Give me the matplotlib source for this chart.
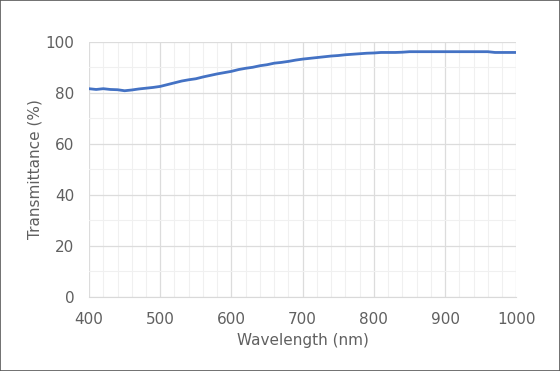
import matplotlib.pyplot as plt
from matplotlib.patches import Rectangle
from matplotlib.ticker import MultipleLocator

# Transmittance curve (every 10 nm)
wavelength = list(range(400, 1001, 10))
transmittance = [
    81.6, 81.3, 81.6, 81.3, 81.2, 80.8, 81.1, 81.5, 81.8, 82.1,
    82.5, 83.2, 83.9, 84.6, 85.1, 85.5, 86.2, 86.8, 87.4, 87.9,
    88.4, 89.1, 89.6, 90.0, 90.6, 91.0, 91.6, 91.9, 92.3, 92.8,
    93.2, 93.5, 93.8, 94.1, 94.4, 94.6, 94.9, 95.1, 95.3, 95.5,
    95.6, 95.8, 95.8, 95.8, 95.9, 96.1, 96.1, 96.1, 96.1, 96.1,
    96.1, 96.1, 96.1, 96.1, 96.1, 96.1, 96.1, 95.8, 95.8, 95.8,
    95.8,
]

text_color = '#606060'

fig = plt.figure(figsize=(5.6, 3.71), dpi=100)
ax = fig.add_axes([0.159, 0.1995, 0.763, 0.688])

ax.plot(wavelength, transmittance, color='#4472c4', linewidth=2.0,
        solid_capstyle='round', zorder=3)

ax.set_xlim(400, 1000)
ax.set_ylim(0, 100)
ax.xaxis.set_major_locator(MultipleLocator(100))
ax.xaxis.set_minor_locator(MultipleLocator(20))
ax.yaxis.set_major_locator(MultipleLocator(20))
ax.yaxis.set_minor_locator(MultipleLocator(10))

ax.grid(which='major', color='#dcdcdc', linewidth=0.9)
ax.grid(which='minor', color='#f0f0f0', linewidth=0.8)
ax.set_axisbelow(True)

for side in ['top', 'right', 'left']:
    ax.spines[side].set_visible(False)
ax.spines['bottom'].set_color('#d9d9d9')

ax.tick_params(which='both', length=0, colors=text_color, labelsize=11)
ax.tick_params(axis='x', pad=11)
ax.tick_params(axis='y', pad=10.5)

ax.set_xlabel('Wavelength (nm)', color=text_color, fontsize=11, va='center')
ax.set_ylabel('Transmittance (%)', color=text_color, fontsize=11, va='center')
ax.xaxis.set_label_coords(0.5, -0.17)
ax.yaxis.set_label_coords(-0.127, 0.5)

# chart border
fig.patches.append(Rectangle((0, 0), 1, 1, transform=fig.transFigure,
                             fill=False, edgecolor='#595959', linewidth=1.2))

fig.savefig('out.png', dpi=100)
